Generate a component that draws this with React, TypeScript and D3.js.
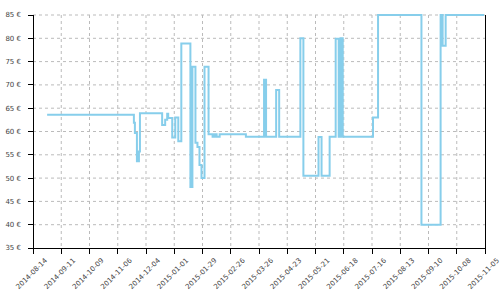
import React from "react";
import * as d3 from "d3";

const priceDates = [
  "2014-08-28", "2014-11-22", "2014-11-23", "2014-11-25", "2014-11-27", "2014-11-28",
  "2014-12-20", "2014-12-23", "2014-12-25", "2014-12-26", "2014-12-30", "2015-01-02",
  "2015-01-05", "2015-01-08", "2015-01-17", "2015-01-19", "2015-01-22", "2015-01-24",
  "2015-01-26", "2015-01-28", "2015-01-31", "2015-02-04", "2015-02-08", "2015-02-10",
  "2015-02-12", "2015-02-15", "2015-03-13", "2015-03-31", "2015-04-02", "2015-04-12",
  "2015-04-15", "2015-05-06", "2015-05-09", "2015-05-24", "2015-05-27", "2015-06-04",
  "2015-06-10", "2015-06-13", "2015-06-15", "2015-06-17", "2015-07-17", "2015-07-22",
  "2015-09-03", "2015-09-22", "2015-09-24", "2015-09-27", "2015-11-04",
];
const prices = [
  63.6, 61.9, 59.7, 53.6, 55.7, 63.9,
  61.4, 62.5, 63.8, 62.9, 58.7, 63.0,
  57.9, 78.9, 48.1, 73.9, 57.6, 56.7,
  52.8, 50.0, 73.9, 59.4, 58.9, 59.4,
  58.9, 59.4, 58.9, 71.1, 58.9, 68.9,
  58.9, 80.0, 50.5, 58.8, 50.5, 58.9,
  79.9, 58.9, 80.0, 58.9, 63.0, 85.0,
  40.0, 85.0, 78.4, 85.0, 85.0,
];
const xTickLabels = [
  "2014-08-14", "2014-09-11", "2014-10-09", "2014-11-06", "2014-12-04", "2015-01-01",
  "2015-01-29", "2015-02-26", "2015-03-26", "2015-04-23", "2015-05-21", "2015-06-18",
  "2015-07-16", "2015-08-13", "2015-09-10", "2015-10-08", "2015-11-05",
];
const yTickValues = [35, 40, 45, 50, 55, 60, 65, 70, 75, 80, 85];

const W = 500;
const H = 300;
const left = 33;
const right = 485;
const top = 15;
const bottom = 248;

export default function App() {
  const parse = d3.utcParse("%Y-%m-%d");
  const x = d3
    .scaleUtc()
    .domain([parse(xTickLabels[0])!, parse(xTickLabels[xTickLabels.length - 1])!])
    .range([left, right]);
  const y = d3.scaleLinear().domain([35, 85]).range([bottom, top]);
  const data = priceDates.map((d, i) => ({ date: parse(d)!, v: prices[i] }));
  const line = d3
    .line<{ date: Date; v: number }>()
    .x((d) => x(d.date))
    .y((d) => y(d.v))
    .curve(d3.curveStepAfter);

  const font = "DejaVu Sans, sans-serif";
  const textColor = "#444";
  const gridColor = "#bbb";

  return (
    <svg
      width={W}
      height={H}
      style={{ position: "absolute", left: 0, top: 0, background: "#fff" }}
    >
      {/* grid */}
      <g>
        {yTickValues.slice(1).map((v) => (
          <line
            key={"gy" + v}
            x1={left}
            x2={right}
            y1={y(v)}
            y2={y(v)}
            stroke={gridColor}
            strokeDasharray="3,3"
            strokeWidth={1}
          />
        ))}
        {xTickLabels.slice(1, -1).map((t) => (
          <line
            key={"gx" + t}
            x1={x(parse(t)!)}
            x2={x(parse(t)!)}
            y1={top}
            y2={bottom}
            stroke={gridColor}
            strokeDasharray="3,3"
            strokeWidth={1}
          />
        ))}
      </g>
      {/* line */}
      <path
        d={line(data) || ""}
        fill="none"
        stroke="#87ceeb"
        strokeWidth={2}
      />
      {/* axes */}
      <g stroke="#000" strokeWidth={1} shapeRendering="crispEdges">
        <line x1={left} x2={left} y1={top} y2={bottom} />
        <line x1={right} x2={right} y1={top} y2={bottom} />
        <line x1={left} x2={right} y1={bottom} y2={bottom} />
        {yTickValues.map((v) => (
          <line key={"ty" + v} x1={left - 5} x2={left} y1={y(v)} y2={y(v)} />
        ))}
        {xTickLabels.map((t) => (
          <line
            key={"tx" + t}
            x1={x(parse(t)!)}
            x2={x(parse(t)!)}
            y1={bottom}
            y2={bottom + 6}
          />
        ))}
      </g>
      <g fontFamily={font} fontSize={7} fill={textColor}>
        {yTickValues.map((v) => (
          <text
            key={"ly" + v}
            x={21}
            y={y(v)}
            dy="0.35em"
            textAnchor="end"
          >
            {`${v} €`}
          </text>
        ))}
        {xTickLabels.map((t) => {
          const cx = x(parse(t)!) - 1.5;
          const cy = 273.5;
          return (
            <text
              key={"lx" + t}
              x={cx}
              y={cy}
              dy="0.35em"
              textAnchor="middle"
              transform={`rotate(-45 ${cx} ${cy})`}
            >
              {t}
            </text>
          );
        })}
      </g>
    </svg>
  );
}
